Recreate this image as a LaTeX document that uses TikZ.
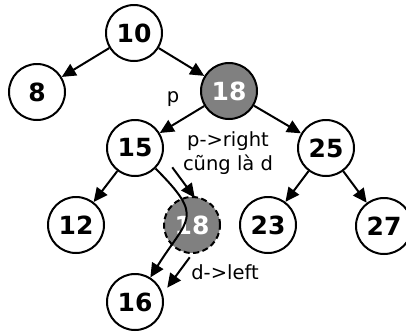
\documentclass[tikz,border=0pt]{standalone}
\usepackage{fontspec}
\setmainfont{DejaVu Sans}
\usetikzlibrary{arrows.meta,positioning}
\definecolor{grisN}{HTML}{808080}
\tikzset{
  cercle/.style={circle, draw=black, line width=2pt, fill=#1, minimum size=56pt,
                 inner sep=0pt, font=\fontsize{25}{25}\selectfont\bfseries},
  cercle/.default=white,
  plein/.style={cercle=grisN, text=white},
  pointille/.style={cercle=grisN, text=white, dash pattern=on 6pt off 3.5pt},
  arr/.style={-{Triangle[length=14pt,width=13pt]}, line width=2pt},
  etiq/.style={font=\fontsize{19.5}{24}\selectfont, align=center},
}
\begin{document}
\begin{tikzpicture}[x=1pt,y=-1pt]
    \useasboundingbox (0,0) rectangle (406,333);
    \node[cercle] (n10) at (134,33) {10};
    \node[cercle] (n8) at (37,92) {8};
    \node[plein] (n18) at (229,91) {18};
    \node[cercle] (n15) at (135,148) {15};
    \node[cercle] (n25) at (326,148) {25};
    \node[cercle] (n12) at (76,225) {12};
    \node[pointille] (n18d) at (192,225) {18};
    \node[cercle] (n23) at (268,225) {23};
    \node[cercle] (n27) at (384,226) {27};
    \node[cercle] (n16) at (135,302) {16};
    \node[etiq] (lp) at (173,99) {p};
    \node[etiq] (lpr) at (228,153) {p->right\\cũng là d};
    \node[etiq] (ldl) at (225,272) {d->left};
    \draw[arr] (n10) -- (n8); \draw[arr] (n10) -- (n18);
    \draw[arr] (n18) -- (n15); \draw[arr] (n18) -- (n25);
    \draw[arr] (n15) -- (n12);
    \draw[arr, transform canvas={xshift=20pt,yshift=4pt}] (n15) -- (n18d);
    \draw[arr] (n25) -- (n23); \draw[arr] (n25) -- (n27);
    \draw[arr] (n15) to[out=-45, in=58, looseness=1.65] (n16);
    \draw[arr, transform canvas={xshift=15pt,yshift=-9pt}] (n18d) -- (n16);
  \end{tikzpicture}
\end{document}
